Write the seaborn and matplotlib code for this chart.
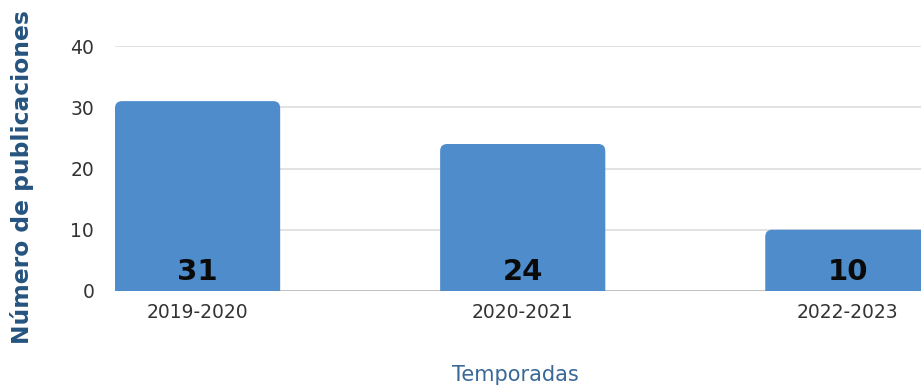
import matplotlib
matplotlib.use("Agg")
import matplotlib.pyplot as plt
from matplotlib.patches import FancyBboxPatch
import seaborn as sns
import pandas as pd

temporadas = ["2019-2020", "2020-2021", "2022-2023"]
publicaciones = [31, 24, 10]
y_ticks = [0, 10, 20, 30, 40]

bar_color = "#4E8CCB"
label_blue = "#25547F"

sns.set_theme(style="white")
plt.rcParams["font.family"] = ["DejaVu Sans"]

df = pd.DataFrame({"Temporadas": temporadas, "Publicaciones": publicaciones})

W, H = 921, 389
fig = plt.figure(figsize=(W / 100, H / 100), dpi=100)
ax = fig.add_axes([115 / W, 1 - 291 / H, 1 - 115 / W, (291 - 46) / H])

sns.barplot(data=df, x="Temporadas", y="Publicaciones", color=bar_color,
            width=0.508, saturation=1, ax=ax, zorder=3)

ax.set_xlim(-0.254, 2.225)
ax.set_ylim(0, 40)

# pixel scale of each data unit, used to keep the corner rounding circular
bbox = ax.get_position()
px_x = bbox.width * W / (ax.get_xlim()[1] - ax.get_xlim()[0])
px_y = bbox.height * H / (ax.get_ylim()[1] - ax.get_ylim()[0])
radius_px = 7

for patch, val in zip(list(ax.patches), publicaciones):
    x0, w, h = patch.get_x(), patch.get_width(), patch.get_height()
    patch.remove()
    drop = 3
    rounded = FancyBboxPatch(
        (x0, -drop), w, h + drop,
        boxstyle=f"round,pad=0,rounding_size={radius_px / px_x}",
        mutation_aspect=px_x / px_y,
        facecolor=bar_color, edgecolor="none", zorder=3)
    ax.add_patch(rounded)
    ax.text(x0 + w / 2, 0.8, str(val), ha="center", va="bottom",
            fontsize=21, fontweight="bold", color="#0A0A0A", zorder=4)

ax.set_yticks(y_ticks)
ax.yaxis.grid(True, color="#DDDDDD", linewidth=1.2, zorder=0)
ax.axhline(0, color="#BBBBBB", linewidth=1.2, zorder=2)
for s in ax.spines.values():
    s.set_visible(False)

ax.tick_params(axis="both", length=0, labelsize=13.5, labelcolor="#333333")
ax.tick_params(axis="y", pad=15)
ax.tick_params(axis="x", pad=9)

ax.set_ylabel("")
ax.set_xlabel("")
fig.text(22 / W, 1 - 177 / H, "Número de publicaciones", rotation=90,
         ha="center", va="center", fontsize=16.8, fontweight="bold",
         color=label_blue)
fig.text(515 / W, 1 - 375 / H, "Temporadas", ha="center", va="center",
         fontsize=15, color="#3A6897")

fig.savefig("out.png", dpi=100)
